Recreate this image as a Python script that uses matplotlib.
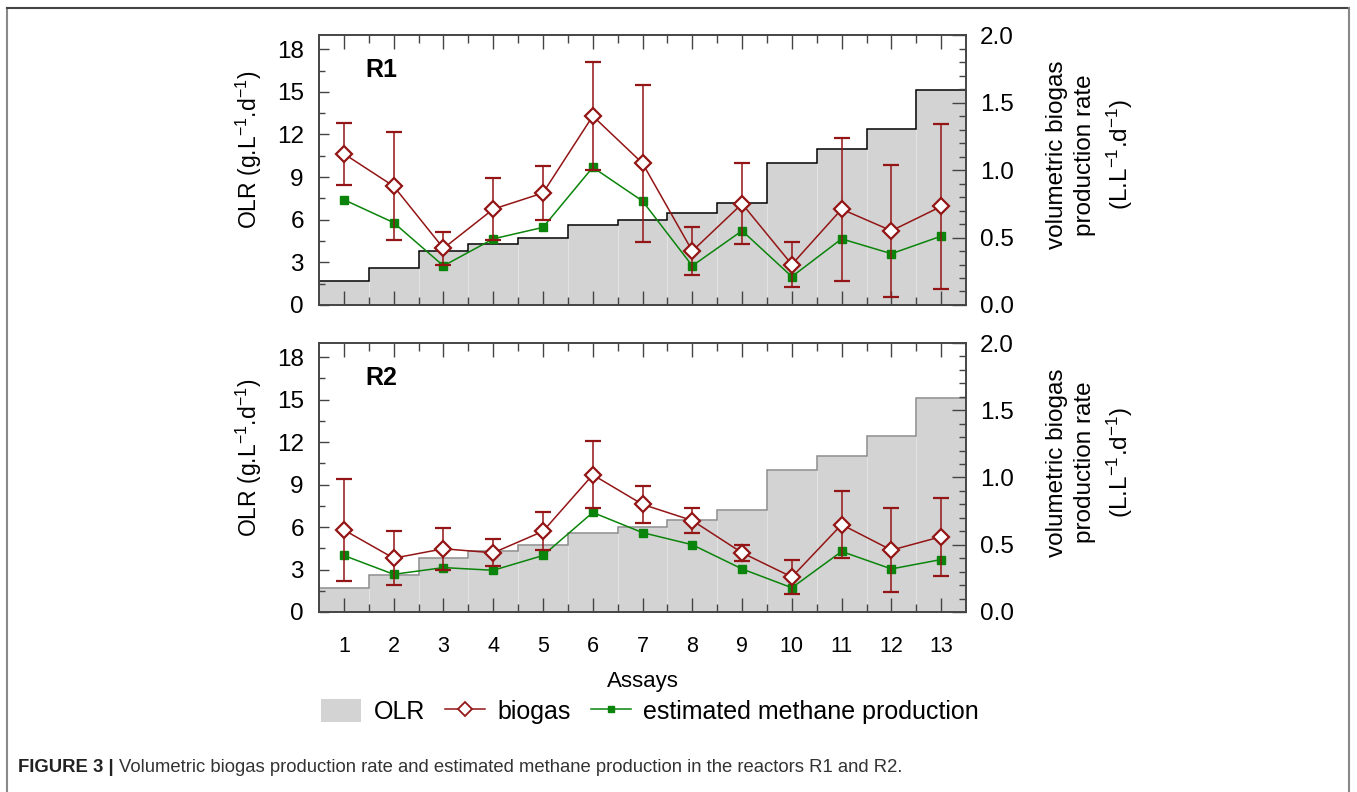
import matplotlib
matplotlib.use("Agg")
import matplotlib.pyplot as plt
import numpy as np
from matplotlib.patches import Patch
from matplotlib.lines import Line2D
from matplotlib.ticker import MultipleLocator, FormatStrFormatter

plt.rcParams['font.family'] = ['Liberation Sans', 'DejaVu Sans']
plt.rcParams['mathtext.fontset'] = 'custom'
plt.rcParams['mathtext.rm'] = 'Liberation Sans'
plt.rcParams['mathtext.it'] = 'Liberation Sans:italic'

# data
assays = np.arange(1, 14)
olr = [1.7, 2.6, 3.8, 4.3, 4.7, 5.6, 6.0, 6.5, 7.2, 10.0, 11.0, 12.4, 15.1]

biogas_r1 = [1.12, 0.88, 0.42, 0.71, 0.83, 1.40, 1.05, 0.40, 0.75, 0.30, 0.71, 0.55, 0.73]
sd_r1 = [0.23, 0.40, 0.12, 0.23, 0.20, 0.40, 0.58, 0.18, 0.30, 0.17, 0.53, 0.49, 0.61]
methane_r1 = [0.78, 0.61, 0.29, 0.49, 0.575, 1.02, 0.77, 0.29, 0.55, 0.21, 0.49, 0.38, 0.51]

biogas_r2 = [0.61, 0.40, 0.47, 0.44, 0.60, 1.02, 0.80, 0.68, 0.44, 0.26, 0.65, 0.46, 0.56]
sd_r2 = [0.38, 0.20, 0.155, 0.10, 0.14, 0.25, 0.14, 0.09, 0.06, 0.13, 0.25, 0.31, 0.29]
methane_r2 = [0.42, 0.28, 0.33, 0.31, 0.42, 0.74, 0.59, 0.50, 0.32, 0.18, 0.45, 0.32, 0.39]

red = '#931515'
green = '#0a840a'
fill = '#d3d3d3'
spine = '#444444'

fig = plt.figure(figsize=(13.57, 7.92), dpi=100)

edges = np.append(assays - 0.5, assays[-1] + 0.5)


def panel(rect, biogas, sd, methane, name, stepcolor, show_x):
    ax = fig.add_axes(rect)
    ax.bar(assays, olr, width=1.0, color=fill, edgecolor='#e3e3e3', linewidth=0.8)
    ax.stairs(olr, edges, baseline=None, color=stepcolor, linewidth=1.1)
    ax.set_xlim(0.5, 13.5)
    ax.set_ylim(0, 19)
    ax.yaxis.set_major_locator(MultipleLocator(3))
    ax.yaxis.set_minor_locator(MultipleLocator(1.5))
    ax.set_xticks(assays)
    ax.set_xticks(edges[1:-1], minor=True)
    ax.tick_params(axis='x', which='major', direction='in', length=10, width=1,
                   color=spine, top=True, labelsize=15.5, pad=17.5)
    ax.tick_params(axis='x', which='minor', direction='in', length=6, width=1,
                   color=spine, top=True)
    ax.tick_params(axis='y', which='major', direction='in', length=7, width=1,
                   color=spine, labelsize=17.5, pad=11)
    ax.tick_params(axis='y', which='minor', direction='in', length=4.5, width=1,
                   color=spine)
    if not show_x:
        ax.tick_params(axis='x', labelbottom=False)
    ax.set_ylabel(r'OLR (g.L$^{-1}$.d$^{-1}$)', fontsize=16.5)
    ax.yaxis.set_label_coords(-0.085, 0.574)
    for s in ax.spines.values():
        s.set_color(spine)
        s.set_linewidth(1.2)
    ax.text(0.096, 0.87, name, transform=ax.transAxes, fontsize=18,
            fontweight='bold', ha='center', va='center')

    ax2 = ax.twinx()
    ax2.errorbar(assays, methane, fmt='-s', color=green, ms=6, lw=1.1, zorder=3)
    ax2.errorbar(assays, biogas, yerr=sd, fmt='-D', color=red, mfc='white',
                 mec=red, mew=1.6, ms=8.5, lw=1.1, elinewidth=1.1,
                 capsize=6, capthick=1.1, zorder=4)
    ax2.set_ylim(0, 2.0)
    ax2.yaxis.set_major_locator(MultipleLocator(0.5))
    ax2.yaxis.set_minor_locator(MultipleLocator(0.1))
    ax2.yaxis.set_major_formatter(FormatStrFormatter('%.1f'))
    ax2.tick_params(axis='y', which='major', direction='in', length=10, width=1,
                    color=spine, labelsize=17.5, pad=10)
    ax2.tick_params(axis='y', which='minor', direction='in', length=5, width=1,
                    color=spine)
    ax2.set_ylabel('volumetric biogas\nproduction rate\n' + r'(L.L$^{-1}$.d$^{-1}$)',
                   fontsize=17.5, linespacing=1.35)
    ax2.yaxis.set_label_coords(1.124, 0.556)
    for s in ax2.spines.values():
        s.set_color(spine)
        s.set_linewidth(1.2)
    return ax, ax2


panel([0.2351, 0.6149, 0.4768, 0.3409], biogas_r1, sd_r1, methane_r1, 'R1', 'black', False)
axb, _ = panel([0.2351, 0.2273, 0.4768, 0.3396], biogas_r2, sd_r2, methane_r2, 'R2', '#8c8c8c', True)
axb.set_xlabel('Assays', fontsize=16, labelpad=10)

handles = [Patch(facecolor=fill, edgecolor='none'),
           Line2D([], [], color=red, marker='D', mfc='white', mec=red, ms=7, mew=1.3, lw=1.1),
           Line2D([], [], color=green, marker='s', ms=5, lw=1.1)]
fig.legend(handles, ['OLR', 'biogas', 'estimated methane production'],
           loc='center', bbox_to_anchor=(0.479, 0.1015), ncol=3, frameon=False,
           fontsize=18, handlelength=1.6, handleheight=1.0, columnspacing=0.8,
           handletextpad=0.5)

# figure frame
fig.add_artist(Line2D([7 / 1357, 7 / 1357], [0, 1 - 8 / 792], color='#888888', lw=1.5))
fig.add_artist(Line2D([7 / 1357, 1349 / 1357], [1 - 8 / 792, 1 - 8 / 792], color='#444444', lw=1.5))
fig.add_artist(Line2D([1349 / 1357, 1349 / 1357], [0, 1 - 8 / 792], color='#888888', lw=1.5))

# caption
t1 = fig.text(18 / 1357, 1 - 767 / 792, 'FIGURE 3 |', fontsize=13.3, fontweight='bold',
              color='#222222', va='center', ha='left')
fig.canvas.draw()
bb = t1.get_window_extent()
fig.text((bb.x1 + 5) / 1357, 1 - 767 / 792,
         'Volumetric biogas production rate and estimated methane production in the reactors R1 and R2.',
         fontsize=13.3, color='#333333', va='center', ha='left')

fig.savefig('out.png', dpi=100)
